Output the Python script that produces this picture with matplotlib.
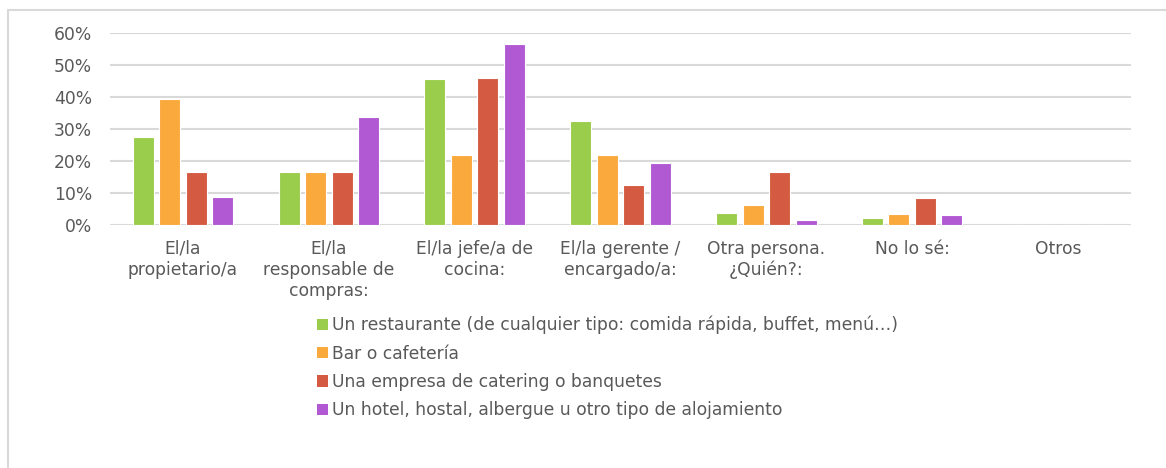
import matplotlib
matplotlib.use("Agg")
import matplotlib.pyplot as plt
import numpy as np
from matplotlib.patches import Rectangle, Patch

categories = ["El/la\npropietario/a", "El/la\nresponsable de\ncompras:", "El/la jefe/a de\ncocina:",
              "El/la gerente /\nencargado/a:", "Otra persona.\n¿Quién?:", "No lo sé:", "Otros"]
series_names = ["Un restaurante (de cualquier tipo: comida rápida, buffet, menú…)",
                "Bar o cafetería",
                "Una empresa de catering o banquetes",
                "Un hotel, hostal, albergue u otro tipo de alojamiento"]
restaurante = [27.6, 16.7, 45.7, 32.6, 3.6, 2.1, 0]
bar = [39.5, 16.7, 22.0, 22.0, 6.2, 3.5, 0]
catering = [16.7, 16.7, 45.9, 12.5, 16.7, 8.4, 0]
hotel = [8.9, 33.8, 56.5, 19.4, 1.6, 3.2, 0]
yticks = [0, 10, 20, 30, 40, 50, 60]
ytick_labels = ["0%", "10%", "20%", "30%", "40%", "50%", "60%"]
colors = ["#9BCD4C", "#FAA93C", "#D45A41", "#B159D2"]

W, H = 1166, 468
fig = plt.figure(figsize=(W / 100, H / 100), dpi=100)
fig.patch.set_facecolor("white")
txt = "#595959"
fs = 12.3

ax = fig.add_axes([110 / W, 1 - 225 / H, (1131 - 110) / W, (225 - 33.3) / H])
x = np.arange(len(categories))
step = 0.1817
width = 0.144
for i, (vals, c) in enumerate(zip([restaurante, bar, catering, hotel], colors)):
    ax.bar(x + (i - 1.5) * step, vals, width=width, color=c, edgecolor="white",
           linewidth=0.8, zorder=3)

ax.set_xlim(-0.5, len(categories) - 0.5)
ax.set_ylim(0, 60)
ax.set_yticks(yticks)
ax.set_yticklabels(ytick_labels, fontsize=fs, color=txt)
ax.set_xticks(x)
ax.set_xticklabels(categories, fontsize=fs, color=txt, linespacing=1.22)
ax.tick_params(axis="both", length=0)
ax.tick_params(axis="y", pad=13)
ax.tick_params(axis="x", pad=10.5)
ax.grid(axis="y", color="#D9D9D9", linewidth=1.5, zorder=0)
for s in ax.spines.values():
    s.set_visible(False)

handles = [Patch(facecolor=c, edgecolor="none") for c in colors]
fig.legend(handles, series_names, loc="upper left", bbox_to_anchor=(317 / W, 1 - 316 / H),
           frameon=False, fontsize=fs, labelcolor=txt, handlelength=0.65, handleheight=0.65,
           handletextpad=0.22, labelspacing=0.6, borderaxespad=0, borderpad=0)

fig.add_artist(Rectangle((7.5 / W, -0.1), 1.2, 1.1 - 10.5 / H, transform=fig.transFigure,
                         fill=False, edgecolor="#D9D9D9", linewidth=1.5))

fig.savefig("out.png", dpi=100, facecolor="white")
